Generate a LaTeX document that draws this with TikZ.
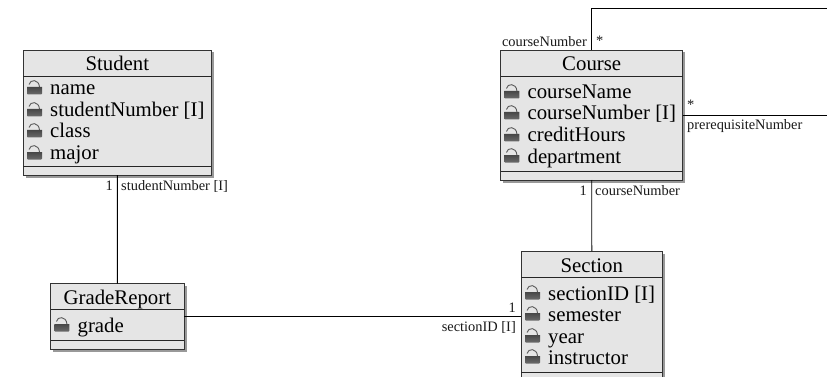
\documentclass[tikz,border=0pt]{standalone}
\usepackage{fontspec}
\setmainfont{Liberation Serif}
\tikzset{
  x=1pt,y=-1pt,
  umlbox/.style={draw=black!80,line width=0.9pt,fill=black!10,anchor=north west,inner sep=0pt,outer sep=0pt,
     minimum width=#1},
  umlbox/.default=100pt,
  sep/.style={draw=black!85,line width=0.9pt},
  conn/.style={draw=black,line width=0.9pt},
  title/.style={font=\fontsize{20.8}{20.8}\selectfont,anchor=base,inner sep=0pt},
  attr/.style={font=\fontsize{20.8}{20.8}\selectfont,anchor=base west,inner sep=0pt},
  lab/.style={font=\fontsize{14.4}{14.4}\selectfont,inner sep=0pt,text=black!90},
  lockarc/.style={draw=black!65,line width=0.9pt},
}
\newcommand{\lockicon}[2]{%
  \shade[top color=black!72,bottom color=black!58] (#1,#2-7.5) -- (#1+15,#2-7.5) -- (#1+15,#2-0.8) -- (#1+14.2,#2) -- (#1+0.8,#2) -- (#1,#2-0.8) -- cycle;
  \draw[lockarc] (#1+2,#2-10) .. controls (#1+3,#2-15.5) and (#1+12,#2-15.5) .. (#1+12.5,#2-7.5);
}
\newcommand{\umlclass}[6]{% name,x,y,w,h,title
  \fill[black!40] (#2+2.5,#3+2.5) rectangle (#2+#4+2.5,#3+#5+2.5);
  \node[umlbox=#4pt,minimum height=#5pt] (#1) at (#2,#3) {};
  \draw[sep] (#2,#3+26.3) -- (#2+#4,#3+26.3);
  \draw[sep] (#2,#3+#5-9) -- (#2+#4,#3+#5-9);
  \node[title] (#1-title) at (#2+#4/2,#3+21) {#6};
}
\newcommand{\umlattr}[4]{% name,x,ybase,text
  \lockicon{#2+3.7}{#3+0.5}
  \node[attr] (#1) at (#2+26.7,#3+1) {#4};
}
\begin{document}
\begin{tikzpicture}
\clip (0,0) rectangle (827,377);
\fill[white] (0,0) rectangle (827,377);
\umlclass{student}{23.3}{50}{188}{125}{Student}
\umlattr{s1}{23.3}{94}{name}
\umlattr{s2}{23.3}{116}{studentNumber [I]}
\umlattr{s3}{23.3}{137}{class}
\umlattr{s4}{23.3}{159}{major}
\umlclass{course}{500.7}{50}{182}{130}{Course}
\umlattr{c1}{500.7}{98}{courseName}
\umlattr{c2}{500.7}{119}{courseNumber [I]}
\umlattr{c3}{500.7}{141}{creditHours}
\umlattr{c4}{500.7}{162}{department}
\umlclass{section}{521.3}{251}{141}{130}{Section}
\umlattr{e1}{521.3}{299}{sectionID [I]}
\umlattr{e2}{521.3}{320}{semester}
\umlattr{e3}{521.3}{342}{year}
\umlattr{e4}{521.3}{363}{instructor}
\umlclass{grade}{50.7}{283.5}{133.3}{65.5}{GradeReport}
\umlattr{g1}{50.7}{331}{grade}
\coordinate (topcorner) at (course.north |- 0,8);
\coordinate (topend) at (827,8);
\coordinate (preend) at (827,115);
\coordinate (prestart) at (course.east |- 0,115);
\draw[conn] (student.south) -- (grade.north);
\draw[conn] (grade.east) -- (grade.east -| section.west);
\draw[conn] (course.south) -- (section.north);
\draw[conn] (course.north) -- (topcorner) -- (topend);
\draw[conn] (prestart) -- (preend);
\node[lab,anchor=base east] (l1) at (113,190) {1};
\node[lab,anchor=base west] (l2) at (121,190) {studentNumber [I]};
\node[lab,anchor=base east] (l3) at (587,47) {courseNumber};
\node[lab,anchor=base west] (l4) at (596,46) {*};
\node[lab,anchor=base west] (l5) at (687,110) {*};
\node[lab,anchor=base west] (l6) at (687,130) {prerequisiteNumber};
\node[lab,anchor=base east] (l7) at (587,195) {1};
\node[lab,anchor=base west] (l8) at (595,195) {courseNumber};
\node[lab,anchor=base east] (l9) at (516,312) {1};
\node[lab,anchor=base east] (l10) at (516,331) {sectionID [I]};
\end{tikzpicture}
\end{document}
